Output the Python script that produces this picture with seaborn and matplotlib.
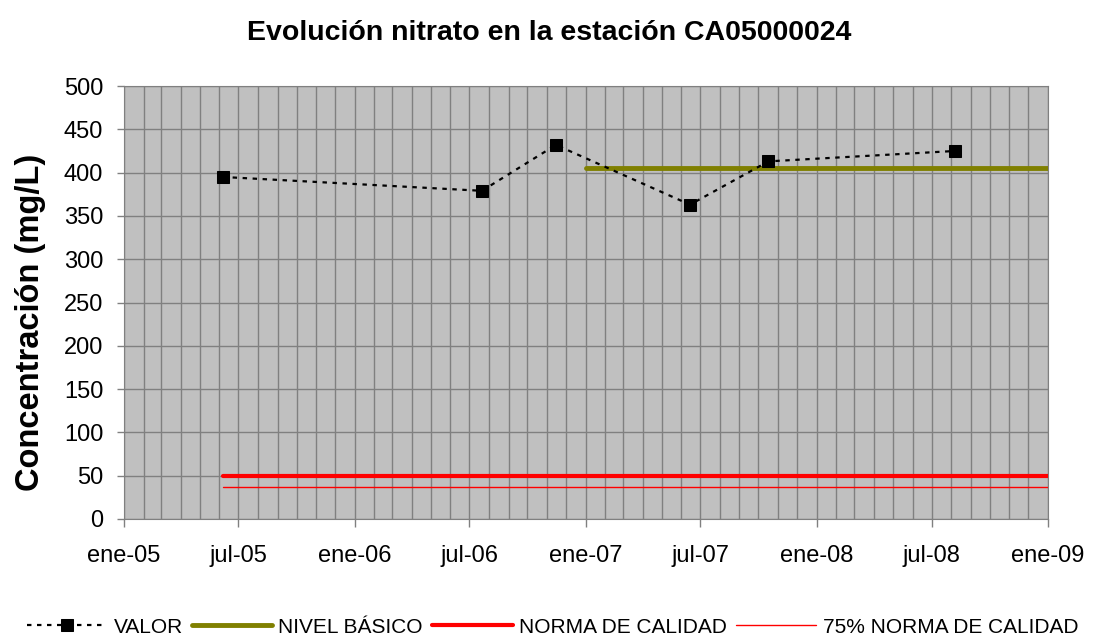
import pandas as pd
import seaborn as sns
import matplotlib.pyplot as plt
import matplotlib.dates as mdates

# Data
fechas = ["2005-06-06", "2006-07-21", "2006-11-15", "2007-06-15", "2007-10-17", "2008-08-07"]
valores = [395, 379, 432, 363, 413, 425]

nivel_fechas = ["2007-01-01", "2009-01-01"]
nivel_valores = [405, 405]

norma_fechas = ["2005-06-06", "2009-01-01"]
norma_valores = [50, 50]
norma75_valores = [37.5, 37.5]

meses = {1: "ene", 7: "jul"}

df = pd.DataFrame({"fecha": pd.to_datetime(fechas), "valor": valores})
df_nivel = pd.DataFrame({"fecha": pd.to_datetime(nivel_fechas), "valor": nivel_valores})
df_norma = pd.DataFrame({"fecha": pd.to_datetime(norma_fechas), "valor": norma_valores})
df_norma75 = pd.DataFrame({"fecha": pd.to_datetime(norma_fechas), "valor": norma75_valores})

sns.set_style("ticks")
plt.rcParams["font.family"] = ["Liberation Sans", "DejaVu Sans"]
plt.rcParams.update({"text.color": "black", "axes.labelcolor": "black",
                     "xtick.labelcolor": "black", "ytick.labelcolor": "black"})

fig = plt.figure(figsize=(11.05, 6.42), dpi=100)
ax = fig.add_axes([0.1122, 0.1916, 0.8362, 0.6744])
ax.set_facecolor("#C0C0C0")

sns.lineplot(data=df_norma75, x="fecha", y="valor", ax=ax, color="#FF0000", lw=1, label="75% NORMA DE CALIDAD", zorder=3)
sns.lineplot(data=df_norma, x="fecha", y="valor", ax=ax, color="#FF0000", lw=3, label="NORMA DE CALIDAD", zorder=3)
sns.lineplot(data=df_nivel, x="fecha", y="valor", ax=ax, color="#808000", lw=3.5, label="NIVEL BÁSICO", zorder=3)
sns.lineplot(data=df, x="fecha", y="valor", ax=ax, color="black", lw=1.6, linestyle=(0, (2, 2.5)),
             marker="s", markersize=8, markeredgecolor="black", label="VALOR", zorder=4)

ax.set_xlim(pd.Timestamp("2005-01-01"), pd.Timestamp("2009-01-01"))
ax.set_ylim(0, 500)
ax.set_yticks(range(0, 501, 50))

ax.xaxis.set_major_locator(mdates.MonthLocator(bymonth=[1, 7]))
ax.xaxis.set_minor_locator(mdates.MonthLocator())
ax.xaxis.set_major_formatter(plt.FuncFormatter(
    lambda v, p: f"{meses[mdates.num2date(v).month]}-{mdates.num2date(v).strftime('%y')}"))

ax.grid(True, which="both", axis="x", color="#808080", lw=1)
ax.grid(True, which="major", axis="y", color="#808080", lw=1)
ax.set_axisbelow(True)
ax.tick_params(axis="x", which="minor", length=0)
ax.tick_params(axis="x", which="major", length=6, width=1, color="#808080", labelsize=17, pad=13)
ax.tick_params(axis="y", length=5, width=1, color="#808080", labelsize=17, pad=10)
for s in ax.spines.values():
    s.set_color("#808080")

ax.set_xlabel("")
ax.set_ylabel("Concentración (mg/L)", fontsize=23.5, fontweight="bold")
ax.yaxis.set_label_coords(-0.084, 0.455)
fig.suptitle("Evolución nitrato en la estación CA05000024", fontsize=20.5, fontweight="bold",
             x=0.497, y=0.9486, va="center")

handles, labels = ax.get_legend_handles_labels()
order = [3, 2, 1, 0]
ax.get_legend().remove()
fig.legend([handles[i] for i in order], [labels[i] for i in order], loc="center",
           bbox_to_anchor=(0.5, 0.023), ncol=4, frameon=False, fontsize=15,
           handlelength=3.85, handletextpad=0.3, columnspacing=0.45, borderpad=0, borderaxespad=0)

fig.savefig("out.png", dpi=100)
